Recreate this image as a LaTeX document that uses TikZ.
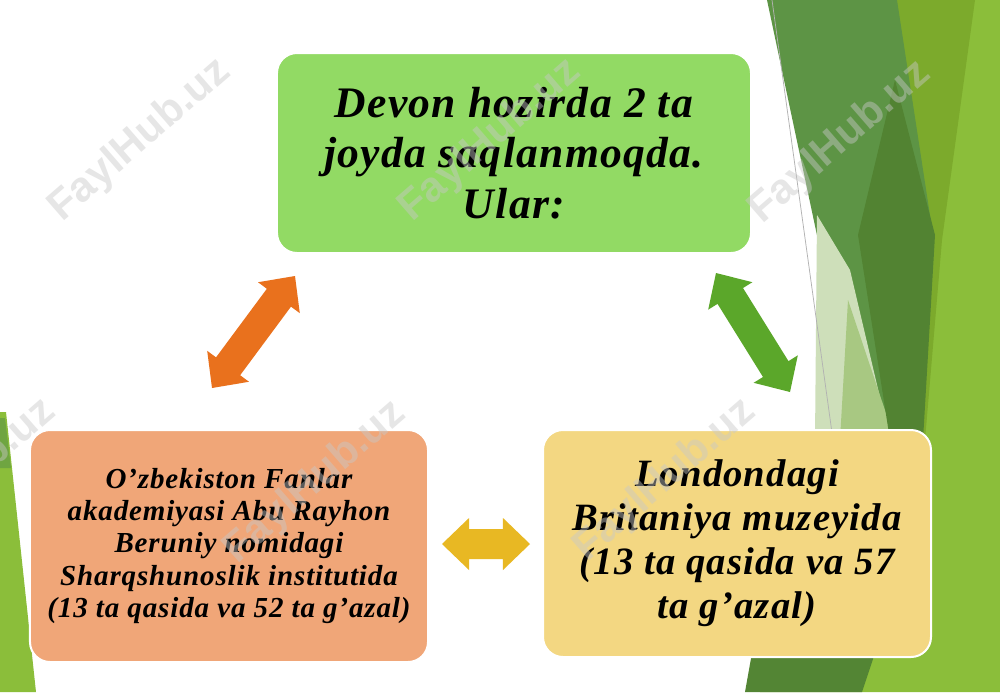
\documentclass[tikz,border=0pt]{standalone}
\usepackage{fontspec}
\setmainfont{Liberation Serif}
\newfontfamily\slidefont[LetterSpace=3]{Liberation Serif}
\newfontfamily\markfont{Liberation Sans}
\usetikzlibrary{calc,positioning}
\definecolor{topgreen}{RGB}{146,218,100}
\definecolor{boxorange}{RGB}{240,166,120}
\definecolor{boxyellow}{RGB}{243,215,130}
\definecolor{arrorange}{RGB}{233,113,29}
\definecolor{arrgreen}{RGB}{91,167,42}
\definecolor{arryellow}{RGB}{232,184,35}
\definecolor{bglime}{RGB}{139,190,58}
\definecolor{bgyellowgreen}{RGB}{124,170,44}
\definecolor{bgmid}{RGB}{93,148,69}
\definecolor{bgdark}{RGB}{82,131,50}
\definecolor{bgpale}{RGB}{206,223,186}
\definecolor{bgpaletwo}{RGB}{168,200,130}
\definecolor{markgray}{RGB}{200,200,200}
\newcommand{\dblarrow}[3]{%
  \fill[#1] (#2) -- ($(#2)!7.5mm!43.9:(#3)$) -- ($(#2)!6.18mm!29.05:(#3)$)
    -- ($(#3)!6.18mm!-29.05:(#2)$) -- ($(#3)!7.5mm!-43.9:(#2)$) -- (#3)
    -- ($(#3)!7.5mm!43.9:(#2)$) -- ($(#3)!6.18mm!29.05:(#2)$)
    -- ($(#2)!6.18mm!-29.05:(#3)$) -- ($(#2)!7.5mm!-43.9:(#3)$) -- cycle;}

\begin{document}
\begin{tikzpicture}[x=0.2mm,y=-0.2mm,
    box/.style={draw=white,line width=0.4mm,rounded corners=4mm,align=center,inner sep=0pt},
    wmark/.style={text=markgray,opacity=0.45,rotate=41,font=\markfont\bfseries\fontsize{24}{28}\selectfont}]
    \useasboundingbox (0,0) rectangle (1000,692);
    \fill[white] (0,0) rectangle (1000,692);
    % background facets
    \fill[bglime] (880,0) -- (1000,0) -- (1000,692) -- (760,692) -- (900,420) -- cycle;
    \fill[bgyellowgreen] (897,0) -- (975,0) -- (942,240) -- (925,440) -- (900,440) -- cycle;
    \fill[bgmid] (767,0) -- (897,0) -- (933,235) -- (922,440) -- (857,430) -- (818,240) -- cycle;
    \fill[bgpale] (817,215) -- (850,270) -- (890,440) -- (815,440) -- cycle;
    \fill[bgpaletwo] (848,300) -- (895,440) -- (840,440) -- cycle;
    \fill[bgdark] (895,80) -- (935,235) -- (923,440) -- (890,440) -- (858,235) -- cycle;
    \fill[bgdark!90!bgmid] (900,440) -- (873,659) -- (862,692) -- (745,692) -- (790,440) -- cycle;
    \draw[gray!60,line width=0.15mm] (772,0) -- (833,440);
    \fill[bglime] (0,412) -- (6,412) -- (36,692) -- (0,692) -- cycle;
    \fill[bgmid!60!bglime] (0,418) -- (5,418) -- (11,468) -- (0,468) -- cycle;
    %
    \node[box,fill=topgreen,minimum width=94.8mm,minimum height=40mm,
        font=\slidefont\bfseries\itshape\fontsize{24.8}{28.8}\selectfont] (devon) at (514,153)
        {Devon hozirda 2 ta\\joyda saqlanmoqda.\\Ular:};
    \node[box,fill=boxorange,minimum width=79.6mm,minimum height=46.4mm,
        font=\slidefont\bfseries\itshape\fontsize{16.5}{18.3}\selectfont] (fanlar) at (229,546)
        {O’zbekiston Fanlar\\akademiyasi Abu Rayhon\\Beruniy nomidagi\\Sharqshunoslik institutida\\(13 ta qasida va 52 ta g’azal)};
    \node[box,fill=boxyellow,minimum width=77.6mm,minimum height=45.4mm,
        font=\slidefont\bfseries\itshape\fontsize{22}{25}\selectfont] (london) at (737,543.5)
        {Londondagi\\Britaniya muzeyida\\(13 ta qasida va 57\\ta g’azal)};
    %
    \coordinate (arr_l1) at (212,388);
    \coordinate (arr_l2) at (295,276);
    \coordinate (arr_r1) at (716,273);
    \coordinate (arr_r2) at (790,392);
    \coordinate (arr_b1) at (442,544);
    \coordinate (arr_b2) at (530,544);
    \dblarrow{arrorange}{arr_l1}{arr_l2}
    \dblarrow{arrgreen}{arr_r1}{arr_r2}
    \dblarrow{arryellow}{arr_b1}{arr_b2}
    %
    \node[wmark] (wm1) at (140,140) {FaylHub.uz};
    \node[wmark] (wm2) at (490,140) {FaylHub.uz};
    \node[wmark] (wm3) at (840,142) {FaylHub.uz};
    \node[wmark] (wm4) at (-35,480) {FaylHub.uz};
    \node[wmark] (wm5) at (315,482) {FaylHub.uz};
    \node[wmark] (wm6) at (665,480) {FaylHub.uz};
\end{tikzpicture}
\end{document}
